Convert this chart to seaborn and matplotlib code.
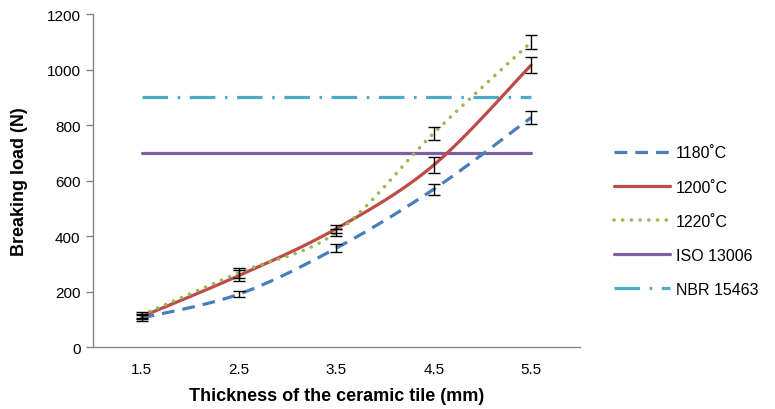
import numpy as np
import pandas as pd
import matplotlib
matplotlib.use("Agg")
import matplotlib.pyplot as plt
import seaborn as sns

thickness = [1.5, 2.5, 3.5, 4.5, 5.5]
load_1180 = [105, 191, 357, 569, 827]
load_1200 = [110, 258, 427, 656, 1016]
load_1220 = [116, 268, 413, 771, 1099]
err_1180 = [10, 12, 14, 20, 24]
err_1200 = [10, 20, 14, 30, 28]
err_1220 = [10, 18, 14, 24, 25]
iso_13006 = 700
nbr_15463 = 900
y_ticks = [0, 200, 400, 600, 800, 1000, 1200]

c1180 = "#4A7EBB"
c1200 = "#BE4B48"
c1220 = "#98B954"
ciso = "#7D60A0"
cnbr = "#4BACC6"

sns.set_theme(style="white")
plt.rcParams["font.family"] = ["Liberation Sans", "DejaVu Sans"]
plt.rcParams["text.color"] = "black"
plt.rcParams["axes.labelcolor"] = "black"
plt.rcParams["xtick.color"] = "black"
plt.rcParams["ytick.color"] = "black"

fig = plt.figure(figsize=(7.75, 4.1), dpi=100)
ax = fig.add_axes([0.12, 0.151, 0.628, 0.812])


def smooth(xs, ys, n=30):
    xs = np.asarray(xs, float)
    ys = np.asarray(ys, float)
    P = np.column_stack([xs, ys])
    P = np.vstack([P[0], P, P[-1]])
    out = []
    t = np.linspace(0, 1, n)
    for i in range(1, len(P) - 2):
        p0, p1, p2, p3 = P[i - 1], P[i], P[i + 1], P[i + 2]
        seg = 0.5 * ((2 * p1)[None, :] + np.outer(t, -p0 + p2)
                     + np.outer(t ** 2, 2 * p0 - 5 * p1 + 4 * p2 - p3)
                     + np.outer(t ** 3, -p0 + 3 * p1 - 3 * p2 + p3))
        out.append(seg if i == 1 else seg[1:])
    out = np.vstack(out)
    return out[:, 0], out[:, 1]


lw = 2.3
sx, sy = smooth(thickness, load_1180)
ax.plot(sx, sy, color=c1180, lw=lw, dashes=(4, 2.5), label="1180˚C", zorder=3)
sx, sy = smooth(thickness, load_1200)
ax.plot(sx, sy, color=c1200, lw=lw, label="1200˚C", zorder=3)
sx, sy = smooth(thickness, load_1220)
ax.plot(sx, sy, color=c1220, lw=2.6, dashes=(0.01, 2.4), dash_capstyle="round",
        label="1220˚C", zorder=3)

std = pd.DataFrame({
    "x": thickness * 2,
    "y": [iso_13006] * 5 + [nbr_15463] * 5,
    "s": ["ISO 13006"] * 5 + ["NBR 15463"] * 5,
})
sns.lineplot(data=std[std.s == "ISO 13006"], x="x", y="y", ax=ax, color=ciso,
             lw=lw, label="ISO 13006", zorder=2)
sns.lineplot(data=std[std.s == "NBR 15463"], x="x", y="y", ax=ax, color=cnbr,
             lw=lw, label="NBR 15463", zorder=2)
ax.lines[-1].set_dashes((8, 3, 0.8, 3))

for ys, es in [(load_1180, err_1180), (load_1200, err_1200), (load_1220, err_1220)]:
    ax.errorbar(thickness, ys, yerr=es, fmt="none", ecolor="black", elinewidth=1.0,
                capsize=4, capthick=1.0, zorder=4)

ax.set_xlim(1.0, 6.0)
ax.set_ylim(0, 1200)
ax.set_xticks(thickness)
ax.set_xticklabels([str(v) for v in thickness])
ax.set_yticks(y_ticks)
ax.tick_params(axis="y", which="both", left=True, length=5, width=1, color="#868686",
               labelsize=11, pad=4, labelcolor="black")
ax.tick_params(axis="x", bottom=False, labelsize=11, pad=5, labelcolor="black")
for s in ["top", "right"]:
    ax.spines[s].set_visible(False)
for s in ["left", "bottom"]:
    ax.spines[s].set_color("#868686")
    ax.spines[s].set_linewidth(1)
ax.grid(False)
ax.set_xlabel("Thickness of the ceramic tile (mm)", fontsize=13, fontweight="bold", labelpad=8)
ax.set_ylabel("Breaking load (N)", fontsize=13, fontweight="bold", labelpad=13)

leg = ax.legend(loc="center left", bbox_to_anchor=(0.774, 0.458), bbox_transform=fig.transFigure,
                frameon=False, fontsize=11.5, handlelength=3.5, labelspacing=1.2,
                handletextpad=0.35)

fig.savefig("out.png", dpi=100)
